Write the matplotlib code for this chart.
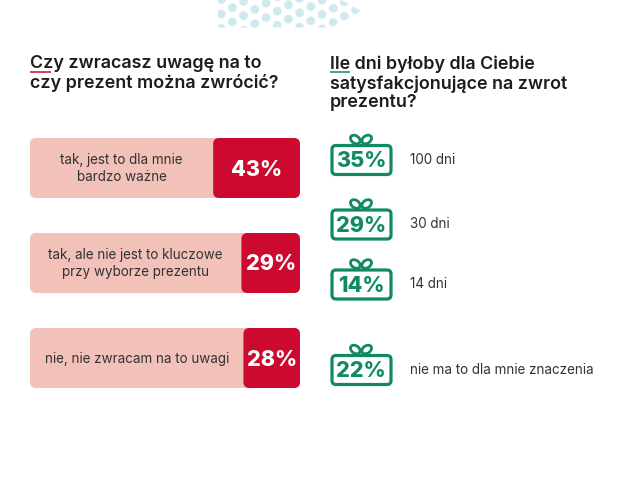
#!/usr/bin/env python3
# Gift return survey infographic

import matplotlib
matplotlib.use("Agg")
import matplotlib.pyplot as plt
from matplotlib.patches import FancyBboxPatch, Polygon, Ellipse

# ---------- DATA ----------
bar_labels = ["tak, jest to dla mnie\nbardzo ważne",
              "tak, ale nie jest to kluczowe\nprzy wyborze prezentu",
              "nie, nie zwracam na to uwagi"]
bar_values = [43, 29, 28]

gift_labels = ["100 dni", "30 dni", "14 dni", "nie ma to dla mnie znaczenia"]
gift_values = [35, 29, 14, 22]

# ---------- SETTINGS ----------
RED = "#CC0A30"
PINK = "#F2C2BA"
GREEN = "#0F8A64"
DARK = "#1D1D1B"
SOFT = "#333333"
DOTS = "#CFE9F1"
FONT = "Inter"

bar_left, bar_right, bar_h = 30, 300, 60
bar_tops = [138, 233, 328]
px_per_pct = 2.02
gift_centers = [160, 224.5, 284.5, 370]

plt.rcParams["font.family"] = [FONT, "DejaVu Sans"]

fig = plt.figure(figsize=(6.3, 5.0), dpi=100)
ax = fig.add_axes([0, 0, 1, 1])
ax.set_xlim(0, 630)
ax.set_ylim(500, 0)
ax.axis("off")

# ---------- DOTS ----------
clip = Polygon([(218, 0), (218, 27.5), (332, 27.5), (361, 11), (341, 0)],
               closed=True, fc="none", ec="none", transform=ax.transData)
ax.add_patch(clip)
for i in range(-12, 16):
    for j in range(-12, 16):
        cx = 243.6 + 11.2 * (i + j)
        cy = 15.7 - 6.3 * i + 8.0 * j
        if 210 < cx < 370 and -6 < cy < 34:
            dot = Ellipse((cx, cy), 8.7, 8.7, fc=DOTS, ec="none")
            ax.add_patch(dot)
            dot.set_clip_path(clip)

# ---------- HEADINGS ----------
ax.text(30, 73.5, "Czy zwracasz uwagę na to\nczy prezent można zwrócić?", fontsize=12.9,
        fontweight="semibold", color=DARK, va="center", linespacing=1.15)
ax.text(330, 83.5, "Ile dni byłoby dla Ciebie\nsatysfakcjonujące na zwrot\nprezentu?", fontsize=12.9,
        fontweight="semibold", color=DARK, va="center", linespacing=1.15)
ax.plot([30, 51], [71.5, 71.5], color=RED, lw=1.1, solid_capstyle="butt")
ax.plot([330, 350], [71.5, 71.5], color=GREEN, lw=1.1, solid_capstyle="butt")

# ---------- BARS ----------
for label, val, top in zip(bar_labels, bar_values, bar_tops):
    r = 6
    ax.add_patch(FancyBboxPatch((bar_left + r, top + r), bar_right - bar_left - 2 * r, bar_h - 2 * r,
                                boxstyle=f"round,pad={r},rounding_size={r}", fc=PINK, ec="none"))
    w = val * px_per_pct
    ax.add_patch(FancyBboxPatch((bar_right - w + r, top + r), w - 2 * r, bar_h - 2 * r,
                                boxstyle=f"round,pad={r},rounding_size={r}", fc=RED, ec="none"))
    ax.text(bar_right - w / 2, top + bar_h / 2 + 1.5, f"{val}%", color="white", fontsize=15.5,
            fontweight=800, ha="center", va="center")
    ax.text((bar_left + bar_right - w) / 2, top + bar_h / 2 + 0.5, label, color=SOFT, fontsize=9.7,
            ha="center", va="center", linespacing=1.3)

# ---------- GIFTS ----------
for label, val, cy in zip(gift_labels, gift_values, gift_centers):
    # bow loops
    for sign in (-1, 1):
        ax.add_patch(Ellipse((361 + sign * 5.7, cy - 20.5), 10.5, 7.5, angle=-sign * 35,
                             fc="none", ec=GREEN, lw=2.0))
    ax.add_patch(FancyBboxPatch((336, cy - 10.5), 51, 21, boxstyle="round,pad=4,rounding_size=4",
                                fc="white", ec=GREEN, lw=2.3))
    ax.text(361, cy + 1, f"{val}%", color=GREEN, fontsize=15.5, fontweight=800,
            ha="center", va="center")
    ax.text(410, cy - 0.5, label, color=SOFT, fontsize=9.7, va="center")

fig.savefig("out.png", dpi=100)
